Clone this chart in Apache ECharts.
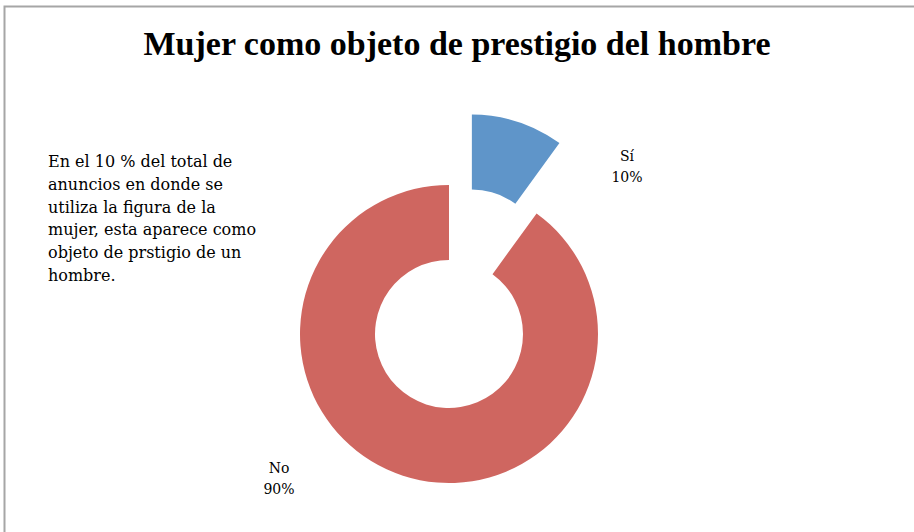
<!DOCTYPE html>
<html>
<head>
<meta charset="utf-8">
<script src="https://cdn.jsdelivr.net/npm/echarts@6/dist/echarts.min.js"></script>
<style>
  html, body { margin: 0; padding: 0; background: #fff; }
  #chart { width: 914px; height: 532px; }
</style>
</head>
<body>
<div id="chart"></div>
<script>
(function() {
  // --- data ---
  var categories = ['Sí', 'No'];
  var values = [10, 90];
  var colors = ['#5f95c9', '#cf6660'];
  var noteLines = [
    'En el 10 % del total de',
    'anuncios en donde se',
    'utiliza la figura de la',
    'mujer, esta aparece como',
    'objeto de prstigio de un',
    'hombre.'
  ];

  var labelSpots = [[627, 166], [279, 478]];
  var pullOut = 74;

  var total = values.reduce(function(a, b) { return a + b; }, 0);
  // shift that ECharts applies to the pulled-out slice (and its label)
  function sliceShift(i) {
    var before = 0;
    for (var k = 0; k < i; k++) before += values[k];
    var mid = (before + values[i] / 2) / total * Math.PI * 2;
    return [pullOut * Math.sin(mid), -pullOut * Math.cos(mid)];
  }

  var chart = echarts.init(document.getElementById('chart'), null, { renderer: 'svg' });
  chart.setOption({
    animation: false,
    backgroundColor: '#fff',
    title: {
      text: 'Mujer como objeto de prestigio del hombre',
      left: 'center',
      top: 21,
      textStyle: {
        fontFamily: 'Liberation Serif',
        fontWeight: 'bold',
        fontSize: 34,
        color: '#000'
      }
    },
    graphic: [
      {
        type: 'rect',
        shape: { x: 4.5, y: 6.5, width: 1000, height: 1000 },
        style: { fill: 'none', stroke: '#a6a6a6', lineWidth: 2 },
        silent: true
      },
      {
        type: 'text',
        left: 48,
        top: 150,
        style: {
          text: noteLines.join('\n'),
          font: '16px "DejaVu Serif"',
          lineHeight: 22.8,
          fill: '#000'
        }
      }
    ],
    series: [{
      type: 'pie',
      center: [449, 334],
      radius: [74, 149],
      startAngle: 90,
      clockwise: true,
      selectedMode: 'single',
      selectedOffset: pullOut,
      avoidLabelOverlap: false,
      emphasis: { disabled: true },
      data: categories.map(function(c, i) {
        return {
          name: c,
          value: values[i],
          selected: i === 0,
          itemStyle: { color: colors[i] }
        };
      }),
      label: {
        show: true,
        position: 'outside',
        formatter: '{t|{b}}\n{t|{d}%}',
        rich: {
          t: {
            width: 44,
            align: 'center',
            fontFamily: 'DejaVu Serif',
            fontSize: 14,
            lineHeight: 21,
            color: '#000'
          }
        }
      },
      labelLine: { show: false },
      labelLayout: function(p) {
        var s = labelSpots[p.dataIndex];
        var r = p.labelRect;
        var sh = p.dataIndex === 0 ? sliceShift(0) : [0, 0];
        return {
          dx: s[0] - (r.x + r.width / 2) - sh[0],
          dy: s[1] - (r.y + r.height / 2) - sh[1]
        };
      }
    }]
  });
  window.addEventListener('resize', function() { chart.resize(); });
})();
</script>
</body>
</html>
